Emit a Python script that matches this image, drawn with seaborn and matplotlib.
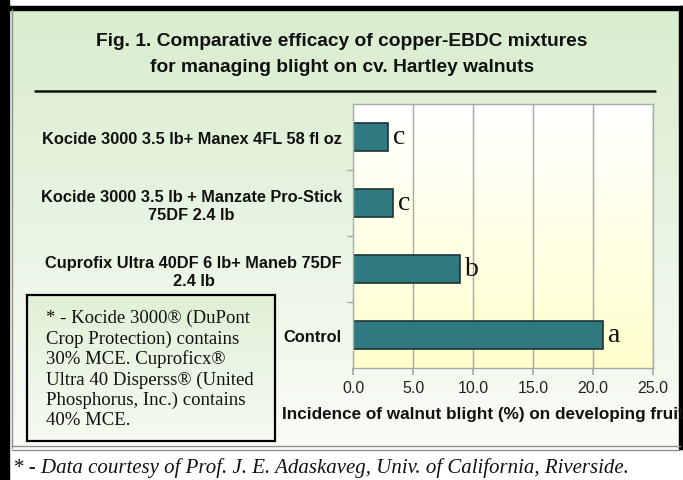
import numpy as np
import matplotlib
matplotlib.use("Agg")
import matplotlib.pyplot as plt
from matplotlib.patches import Rectangle
import seaborn as sns

#==== data ====
treatments = ["Kocide 3000 3.5 lb+ Manex 4FL 58 fl oz",
              "Kocide 3000 3.5 lb + Manzate Pro-Stick\n75DF 2.4 lb",
              "Cuprofix Ultra 40DF 6 lb+ Maneb 75DF\n2.4 lb",
              "Control"]
incidence = [2.9, 3.3, 8.9, 20.8]
letters = ["c", "c", "b", "a"]
xticks = [0, 5, 10, 15, 20, 25]

title = ("Fig. 1. Comparative efficacy of copper-EBDC mixtures\n"
         "for managing blight on cv. Hartley walnuts")
xlabel = "Incidence of walnut blight (%) on developing fruit"
note = ("* - Kocide 3000\u00ae (DuPont\nCrop Protection) contains\n30% MCE. Cuproficx\u00ae\n"
        "Ultra 40 Disperss\u00ae (United\nPhosphorus, Inc.) contains\n40% MCE.")
footnote = "* - Data courtesy of Prof. J. E. Adaskaveg, Univ. of California, Riverside."

sns.set_theme(style="white")
plt.rcParams['font.family'] = ['Liberation Sans', 'DejaVu Sans']
serif = ["Liberation Serif", "DejaVu Serif"]

W, H = 683, 481
fig = plt.figure(figsize=(W / 100, H / 100), dpi=100)
fig.patch.set_facecolor("white")


def vgrad(c_top, c_bot, n=256):
    g = np.linspace(0, 1, n)[:, None, None]
    a = np.array(c_top)[None, None, :] / 255
    b = np.array(c_bot)[None, None, :] / 255
    return np.repeat(a * (1 - g) + b * g, 2, axis=1)


#==== background / frame (pixel coords) ====
bg = fig.add_axes([0, 0, 1, 1], zorder=0)
bg.set_xlim(0, W)
bg.set_ylim(H, 0)
bg.axis("off")

bg.imshow(vgrad((216, 237, 206), (250, 252, 247)), extent=[11, 680, 449, 10],
          aspect="auto", zorder=0)

bg.add_patch(Rectangle((0, 0), 9, H, color="black", zorder=3))
bg.add_patch(Rectangle((9, 7), W - 9, 3.5, color="black", zorder=3))
bg.add_patch(Rectangle((679, 7), 4, 443, color="black", zorder=3))
bg.plot([12, 12], [10, 449], color="#909090", lw=1, zorder=3)
bg.plot([12, 680], [447, 447], color="#909090", lw=1, zorder=3)
bg.plot([12, 680], [450.5, 450.5], color="#909090", lw=1, zorder=3)

# rule under title
bg.plot([35, 655], [92, 92], color="#111111", lw=1.8, zorder=3)

# note box
bg.imshow(vgrad((224, 240, 214), (246, 250, 242), 128), extent=[27, 275, 442, 296],
          aspect="auto", zorder=2)
bg.add_patch(Rectangle((27, 296), 248, 146, fill=False, edgecolor="black", lw=1.6, zorder=3))
bg.text(46, 310, note, fontsize=13.5, family=serif, va="top", ha="left",
        linespacing=1.22, color="#111111", zorder=4)

bg.text(342, 42, title.split("\n")[0], fontsize=13.8, fontweight="bold", ha="center",
        va="center", color="#111111", zorder=4)
bg.text(342, 68, title.split("\n")[1], fontsize=13.8, fontweight="bold", ha="center",
        va="center", color="#111111", zorder=4)
bg.text(13, 468, footnote, fontsize=15, style="italic", family=serif,
        ha="left", va="center", color="#111111", zorder=4)

#==== bar chart ====
ax = fig.add_axes([353 / W, 1 - 369 / H, 300 / W, 264 / H], zorder=2)
ax.patch.set_alpha(0)

ax.imshow(vgrad((255, 255, 255), (255, 255, 206)), extent=[0, 25, 3.5, -0.5],
          aspect="auto", zorder=0)

for t in xticks[1:]:
    ax.axvline(t, color="#a8a8a8", lw=1, zorder=1)

sns.barplot(x=incidence, y=treatments, orient="h", color="#2e7a80",
            edgecolor="#1c3436", linewidth=1.2, width=0.41, saturation=1, ax=ax, zorder=2)

for i, (v, s) in enumerate(zip(incidence, letters)):
    ax.annotate(s, (v, i), xytext=(4, 0), textcoords="offset points",
                ha="left", va="center", fontsize=20, family=serif, color="#111111")

ax.set_xlim(0, 25)
ax.set_ylim(3.5, -0.5)
ax.set_xticks(xticks)
ax.set_xticklabels([f"{t:.1f}" for t in xticks], fontsize=11.5, color="#222222")
ax.set_yticks(range(len(treatments)))
ax.set_yticklabels(treatments, fontsize=11.8, fontweight="bold", ha="right",
                   multialignment="center", color="#111111")
ax.tick_params(axis="y", which="major", length=0, pad=8)
ax.set_yticks([0.5, 1.5, 2.5], minor=True)
ax.tick_params(axis="y", which="minor", length=4, color="#a8a8a8", direction="out", left=True)
ax.tick_params(axis="x", length=5, color="#a8a8a8", direction="out", bottom=True, pad=4)

ax.set_xlabel(xlabel, fontsize=12.3, fontweight="bold", color="#111111",
              ha="left", va="center")
ax.xaxis.set_label_coords((282 - 353) / 300, -(415 - 369) / 264)
ax.set_ylabel("")

for side in ["left", "top", "right", "bottom"]:
    ax.spines[side].set_color("#a8a8a8")
    ax.spines[side].set_linewidth(1)

fig.savefig("out.png", dpi=100)
